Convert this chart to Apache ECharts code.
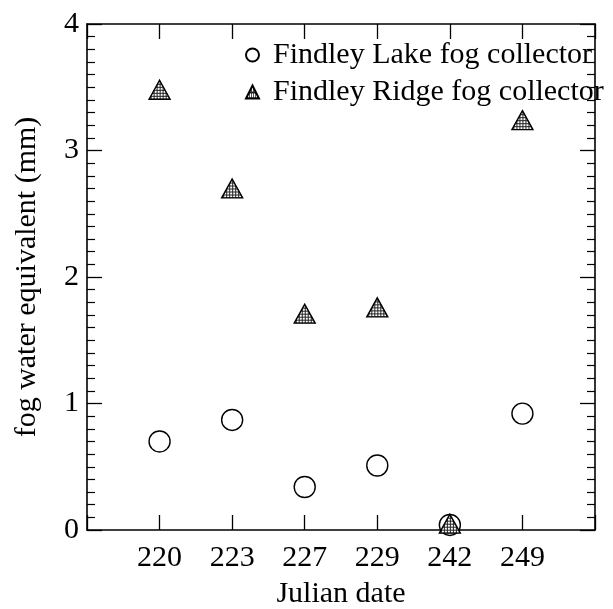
<!DOCTYPE html>
<html>
<head>
<meta charset="utf-8">
<script src="https://cdn.jsdelivr.net/npm/echarts@6/dist/echarts.min.js"></script>
<style>
  html, body { margin: 0; padding: 0; background: #fff; }
  #chart { width: 613px; height: 609px; }
</style>
</head>
<body>
<div id="chart"></div>
<script>
// Julian dates of the sampling days (one slot each on the x axis)
const julianDates = ['220', '223', '227', '229', '242', '249'];
// fog water equivalent, mm
const lakeValues = [0.70, 0.87, 0.34, 0.51, 0.04, 0.92];
const ridgeValues = [3.48, 2.70, 1.71, 1.76, 0.05, 3.24];
const yTicks = [0, 1, 2, 3, 4];

const FONT = '"Liberation Serif", "Times New Roman", serif';
const TRI_W = 21, TRI_H = 19;

// stippled fill for the ridge triangles; the symbol path is drawn in a
// 2x2 box and scaled up, so the pattern is scaled down to stay fine-grained
function stipple(w, h) {
  const c = document.createElement('canvas');
  c.width = 3; c.height = 3;
  const g = c.getContext('2d');
  g.fillStyle = '#ffffff';
  g.fillRect(0, 0, 3, 3);
  g.fillStyle = '#222222';
  g.fillRect(0, 0, 3, 1);
  g.fillRect(0, 0, 1, 3);
  return { image: c, repeat: 'repeat', scaleX: 2 / w, scaleY: 2 / h };
}

const toPoints = vals => vals.map((v, i) => [i + 1, v]);

const axisLine = { show: true, onZero: false, lineStyle: { color: '#000', width: 1.6 } };
const xBase = {
  type: 'value', min: 0, max: julianDates.length + 1, interval: 1,
  axisLine: axisLine, splitLine: { show: false },
  axisTick: { show: true, inside: true, length: 15, lineStyle: { color: '#000', width: 1.3 } }
};
const yBase = {
  type: 'value', min: yTicks[0], max: yTicks[yTicks.length - 1], interval: 1,
  axisLine: axisLine, splitLine: { show: false },
  axisTick: { show: true, inside: true, length: 15, lineStyle: { color: '#000', width: 1.3 } },
  minorTick: { show: true, splitNumber: 10, length: 8, lineStyle: { color: '#000', width: 1.2 } }
};

const chart = echarts.init(document.getElementById('chart'), null, { renderer: 'canvas' });
chart.setOption({
  backgroundColor: '#ffffff',
  animation: false,
  textStyle: { fontFamily: FONT, color: '#000' },
  grid: { left: 87, right: 18, top: 24, bottom: 79, containLabel: false, outerBoundsMode: 'none' },
  legend: {
    orient: 'vertical', left: 240, top: 35,
    itemWidth: 13, itemHeight: 13, itemGap: 7,
    textStyle: { fontFamily: FONT, fontSize: 30, color: '#000', padding: [0, 0, 0, 9] },
    data: ['Findley Lake fog collector', 'Findley Ridge fog collector']
  },
  xAxis: [
    Object.assign({}, xBase, {
      position: 'bottom',
      name: 'Julian date', nameLocation: 'middle', nameGap: 49,
      nameTextStyle: { fontFamily: FONT, fontSize: 30, color: '#000' },
      axisLabel: {
        show: true, margin: 13, fontFamily: FONT, fontSize: 30, color: '#000',
        formatter: v => julianDates[v - 1] || ''
      }
    }),
    Object.assign({}, xBase, { position: 'top', axisLabel: { show: false } })
  ],
  yAxis: [
    Object.assign({}, yBase, {
      position: 'left',
      name: 'fog water equivalent (mm)', nameLocation: 'middle', nameGap: 45,
      nameTextStyle: { fontFamily: FONT, fontSize: 30, color: '#000' },
      axisLabel: { show: true, margin: 8, fontFamily: FONT, fontSize: 30, color: '#000' }
    }),
    Object.assign({}, yBase, { position: 'right', axisLabel: { show: false } })
  ],
  series: [
    {
      name: 'Findley Lake fog collector', type: 'scatter',
      xAxisIndex: 0, yAxisIndex: 0,
      symbol: 'circle', symbolSize: 21,
      itemStyle: { color: '#ffffff', borderColor: '#000', borderWidth: 1.4, opacity: 1 },
      data: toPoints(lakeValues)
    },
    {
      name: 'Findley Ridge fog collector', type: 'scatter',
      xAxisIndex: 0, yAxisIndex: 0,
      symbol: 'triangle', symbolSize: [TRI_W, TRI_H],
      itemStyle: { color: stipple(TRI_W, TRI_H), borderColor: '#000', borderWidth: 1.4, opacity: 1 },
      data: toPoints(ridgeValues)
    }
  ]
});
</script>
</body>
</html>
